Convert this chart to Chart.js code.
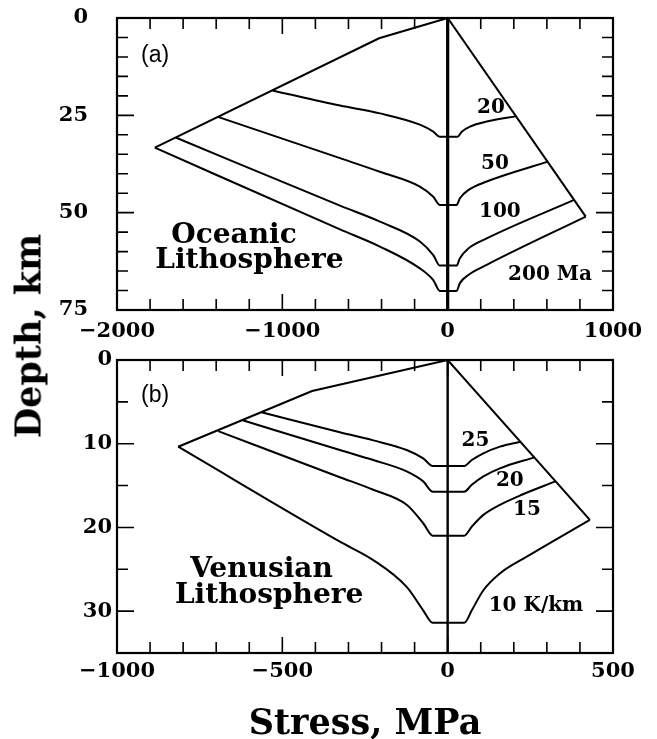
<!DOCTYPE html>
<html>
<head>
<meta charset="utf-8">
<title>Strength envelopes</title>
<script src="https://cdn.jsdelivr.net/npm/chart.js@4.4.0/dist/chart.umd.min.js"></script>
<style>
    html, body { margin: 0; padding: 0; background: #fff; }
    #wrap { position: relative; width: 657px; height: 739px; overflow: hidden; }
    #wrap canvas { position: absolute; left: 0; }
    #chartA { top: 0; }
    #chartB { top: 340px; }
    .axis-title {
        position: absolute;
        font-family: 'DejaVu Serif', serif;
        font-weight: bold;
        font-size: 35px;
        color: #000;
        white-space: nowrap;
        line-height: 1;
    }
    #ytitle { left: 28px; top: 336px; transform: translate(-50%, -50%) rotate(-90deg); }
    #xtitle { left: 365px; top: 721px; transform: translate(-50%, -50%); }
</style>
</head>
<body>
<div id="wrap">
    <canvas id="chartA" width="657" height="350"></canvas>
    <canvas id="chartB" width="657" height="399"></canvas>
    <div class="axis-title" id="ytitle">Depth, km</div>
    <div class="axis-title" id="xtitle">Stress, MPa</div>
</div>
<script>
// (a) oceanic lithosphere: [stress MPa, depth km]
const oceanCompEnvelope = [[0, 0], [-415, 5.2], [-1771, 33.3]];
const oceanTensEnvelope = [[0, 0], [835, 51]];
const ocean20 = [[-1060, 18.6], [-651, 22.5], [-409, 24.5], [-168, 27.4], [-87, 29.2], [-47, 30.5], [60, 30.5], [85, 29.2], [135, 27.9], [236, 26.6], [418, 25.2]];
const ocean50 = [[-1390, 25.4], [-651, 36.0], [-410, 39.5], [-168, 43.3], [-87, 45.9], [-47, 48.0], [54, 48.0], [74, 46.3], [125, 44.2], [236, 42.0], [605, 36.9]];
const ocean100 = [[-1645, 30.7], [-651, 48.2], [-410, 52.3], [-168, 57.4], [-87, 60.9], [-47, 63.6], [54, 63.6], [74, 61.7], [125, 59.2], [236, 56.6], [765, 46.7]];
const ocean200 = [[-1771, 33.3], [-651, 54.3], [-410, 58.7], [-168, 64.3], [-87, 67.3], [-47, 70.1], [54, 70.1], [74, 68.1], [125, 66.0], [236, 63.4], [835, 51]];
const oceanXLabels = [-2000, -1000, 0, 1000];
const oceanYLabels = [0, 25, 50, 75];
const oceanCurveNames = ['20', '50', '100', '200 Ma'];

// (b) venusian lithosphere
const venusCompEnvelope = [[0, 0], [-410, 3.7], [-815, 10.36]];
const venusTensEnvelope = [[0, 0], [430, 19.1]];
const venus25 = [[-563, 6.25], [-326, 8.64], [-225, 9.6], [-124, 10.75], [-74, 11.75], [-45, 12.66], [50, 12.66], [73, 11.95], [108, 11.15], [158, 10.35], [220, 9.76]];
const venus20 = [[-620, 7.2], [-326, 10.75], [-225, 11.95], [-124, 13.3], [-74, 14.5], [-45, 15.73], [50, 15.73], [73, 14.9], [108, 13.9], [158, 12.94], [262, 11.63]];
const venus15 = [[-694, 8.5], [-326, 14.0], [-225, 15.5], [-124, 17.3], [-74, 19.5], [-45, 20.98], [50, 20.98], [73, 19.9], [108, 18.5], [158, 17.3], [224, 16.1], [326, 14.5]];
const venus10 = [[-815, 10.36], [-326, 21.7], [-225, 23.9], [-124, 27.1], [-74, 29.9], [-45, 31.4], [50, 31.4], [73, 29.9], [108, 27.5], [158, 25.5], [239, 23.5], [430, 19.1]];
const venusXLabels = [-1000, -500, 0, 500];
const venusYLabels = [0, 10, 20, 30];
const venusCurveNames = ['25', '20', '15', '10 K/km'];

const serif = "'DejaVu Serif', serif";

function curve(points, width, smooth) {
    return {
        data: points.map(([x, y]) => ({ x, y })),
        showLine: true,
        borderColor: '#000',
        borderWidth: width,
        pointRadius: 0,
        fill: false,
        tension: 0,
        cubicInterpolationMode: smooth ? 'monotone' : 'default',
    };
}

// frame, inward ticks and the text inside the plot
function frameAndNotes(notes) {
    return {
        id: 'frameAndNotes',
        afterDatasetsDraw(chart) {
            const { ctx, chartArea: a, scales } = chart;
            ctx.save();
            ctx.strokeStyle = '#000';
            ctx.lineWidth = 1.6;
            scales.x.ticks.forEach((t) => {
                const px = scales.x.getPixelForValue(t.value);
                const len = t.label !== '' ? 16 : 11;
                ctx.beginPath();
                ctx.moveTo(px, a.bottom);
                ctx.lineTo(px, a.bottom - len);
                ctx.moveTo(px, a.top);
                ctx.lineTo(px, a.top + len);
                ctx.stroke();
            });
            scales.y.ticks.forEach((t) => {
                const py = scales.y.getPixelForValue(t.value);
                const len = t.label !== '' ? 17 : 11;
                ctx.beginPath();
                ctx.moveTo(a.left, py);
                ctx.lineTo(a.left + len, py);
                ctx.moveTo(a.right, py);
                ctx.lineTo(a.right - len, py);
                ctx.stroke();
            });
            ctx.lineWidth = 2.2;
            ctx.strokeRect(a.left, a.top, a.right - a.left, a.bottom - a.top);

            ctx.fillStyle = '#000';
            ctx.textAlign = 'center';
            ctx.textBaseline = 'middle';
            notes.forEach((n) => {
                ctx.font = n.font;
                ctx.fillText(n.text, scales.x.getPixelForValue(n.x), scales.y.getPixelForValue(n.y));
            });
            ctx.restore();
        },
    };
}

function makeChart(canvasId, cfg) {
    const tickFont = { family: serif, weight: 'bold', size: 21 };
    return new Chart(document.getElementById(canvasId), {
        type: 'scatter',
        data: { datasets: cfg.datasets },
        options: {
            responsive: false,
            animation: false,
            events: [],
            layout: { padding: cfg.padding },
            plugins: { legend: { display: false }, tooltip: { enabled: false } },
            scales: {
                x: {
                    type: 'linear',
                    min: cfg.xMin,
                    max: cfg.xMax,
                    afterFit: (s) => {
                        s.height = cfg.xHeight;
                        s.paddingLeft = 0;
                        s.paddingRight = 0;
                    },
                    grid: { display: false, drawTicks: false },
                    border: { display: false },
                    ticks: {
                        stepSize: cfg.xStep,
                        autoSkip: false,
                        maxRotation: 0,
                        minRotation: 0,
                        padding: cfg.xPad,
                        color: '#000',
                        font: tickFont,
                        callback: (v) => (cfg.xLabels.includes(v) ? String(v).replace('-', '\u2212') : ''),
                    },
                },
                y: {
                    type: 'linear',
                    reverse: true,
                    min: cfg.yMin,
                    max: cfg.yMax,
                    afterFit: (s) => {
                        s.width = 117;
                        s.paddingTop = 0;
                        s.paddingBottom = 0;
                    },
                    grid: { display: false, drawTicks: false },
                    border: { display: false },
                    ticks: {
                        stepSize: 5,
                        autoSkip: false,
                        padding: cfg.yPad,
                        color: '#000',
                        font: tickFont,
                        callback: (v) => (cfg.yLabels.includes(v) ? String(v) : ''),
                    },
                },
            },
        },
        plugins: [frameAndNotes(cfg.notes)],
    });
}

document.addEventListener('DOMContentLoaded', () => {
    const labelFont = `bold 20px ${serif}`;
    const bigFont = `bold 28px ${serif}`;
    const panelFont = "23px 'Liberation Sans', Arial, sans-serif";

    makeChart('chartA', {
        datasets: [
            curve(oceanCompEnvelope, 2, false),
            curve(oceanTensEnvelope, 2, false),
            curve(ocean20, 2, true),
            curve(ocean50, 2, true),
            curve(ocean100, 2, true),
            curve(ocean200, 2, true),
            curve([[0, 0], [0, 75]], 3.2, false),
        ],
        padding: { top: 18, right: 44, bottom: 5, left: 0 },
        xHeight: 35,
        xMin: -2000, xMax: 1000, xStep: 200, xPad: 9,
        yMin: 0, yMax: 75, yPad: 29,
        xLabels: oceanXLabels,
        yLabels: oceanYLabels,
        notes: [
            { text: '(a)', x: -1770, y: 9.8, font: panelFont },
            { text: 'Oceanic', x: -1292, y: 56.0, font: bigFont },
            { text: 'Lithosphere', x: -1199, y: 62.4, font: bigFont },
            { text: oceanCurveNames[0], x: 262, y: 23.1, font: labelFont },
            { text: oceanCurveNames[1], x: 286, y: 37.5, font: labelFont },
            { text: oceanCurveNames[2], x: 316, y: 49.8, font: labelFont },
            { text: oceanCurveNames[3], x: 619, y: 66.0, font: labelFont },
        ],
    });

    makeChart('chartB', {
        datasets: [
            curve(venusCompEnvelope, 2, false),
            curve(venusTensEnvelope, 2, false),
            curve(venus25, 2, true),
            curve(venus20, 2, true),
            curve(venus15, 2, true),
            curve(venus10, 2, true),
            curve([[0, 0], [0, 35]], 2.4, false),
        ],
        padding: { top: 20, right: 44, bottom: 46, left: 0 },
        xHeight: 40,
        xMin: -1000, xMax: 500, xStep: 100, xPad: 6,
        yMin: 0, yMax: 35, yPad: 5,
        xLabels: venusXLabels,
        yLabels: venusYLabels,
        notes: [
            { text: '(b)', x: -885, y: 4.3, font: panelFont },
            { text: 'Venusian', x: -563, y: 25.0, font: bigFont },
            { text: 'Lithosphere', x: -540, y: 28.2, font: bigFont },
            { text: venusCurveNames[0], x: 84, y: 9.7, font: labelFont },
            { text: venusCurveNames[1], x: 188, y: 14.45, font: labelFont },
            { text: venusCurveNames[2], x: 240, y: 17.9, font: labelFont },
            { text: venusCurveNames[3], x: 267, y: 29.4, font: labelFont },
        ],
    });
});
</script>
</body>
</html>
